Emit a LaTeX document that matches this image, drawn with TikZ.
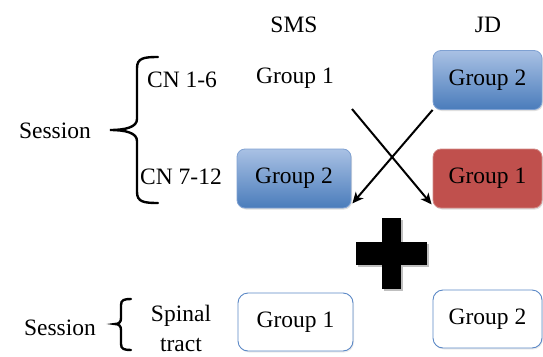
\documentclass[tikz,border=0pt]{standalone}
\usepackage{fontspec}
\setmainfont{Liberation Serif}
\usetikzlibrary{arrows.meta,shadows}
\definecolor{bluetop}{HTML}{A9C1E4}
\definecolor{bluebot}{HTML}{4A7CBB}
\definecolor{blueedge}{HTML}{7FA1D2}
\definecolor{redfill}{HTML}{C0504D}
\definecolor{rededge}{HTML}{D38A88}
\definecolor{outline}{HTML}{5B88C6}
\tikzset{
  lbl/.style={font=\fontsize{23.5}{27}\selectfont, inner sep=0pt},
  gbox/.style={lbl, rounded corners=8pt, minimum height=59pt,
    drop shadow={opacity=0.25, shadow xshift=1pt, shadow yshift=-1.5pt}},
  bluebox/.style={gbox, top color=bluetop, bottom color=bluebot, draw=blueedge, line width=0.8pt},
  redbox/.style={gbox, fill=redfill, draw=rededge, line width=0.8pt},
  whitebox/.style={lbl, rounded corners=10pt, minimum height=58pt, fill=white, draw=outline, line width=0.9pt,
    drop shadow={opacity=0.15, shadow xshift=1pt, shadow yshift=-1.5pt}},
  brace/.style={line width=2.4pt, line cap=round},
  arr/.style={line width=2pt, -{Stealth[length=11pt,width=10pt,inset=3pt]}}
}
\begin{document}
\begin{tikzpicture}[x=1pt,y=-1pt]
\useasboundingbox (0,0) rectangle (543,356);
% column headers
\node[lbl] (sms) at (294,25) {SMS};
\node[lbl] (jd) at (488,25) {JD};
% left labels
\node[lbl] (sess1) at (55,131) {Session};
\node[lbl] (cn16) at (182,80) {CN 1-6};
\node[lbl] (cn712) at (181,177) {CN 7-12};
\node[lbl] (sess2) at (60,328) {Session};
\node[lbl, align=center, font=\fontsize{23.5}{30}\selectfont] (spinal) at (181,328) {Spinal\\tract};
% braces
\draw[brace] (158,57) .. controls (144,57) and (137,58) .. (137,68) -- (137,119)
  .. controls (137,127) and (126,130) .. (110,130)
  .. controls (126,130) and (137,133) .. (137,141) -- (137,192)
  .. controls (137,202) and (144,203) .. (158,203);
\draw[brace] (131,299) .. controls (124,299) and (121,300) .. (121,305) -- (121,318)
  .. controls (121,322) and (119,324) .. (115,324)
  .. controls (119,324) and (121,326) .. (121,330) -- (121,344)
  .. controls (121,349) and (124,350) .. (131,350);
% groups
\node[lbl] (topg1) at (295,78) {Group 1};
\node[bluebox, minimum width=109pt] (topg2) at (487.5,80) {Group 2};
\node[bluebox, minimum width=114pt] (midg2) at (294,178.5) {Group 2};
\node[redbox, minimum width=109pt] (midg1) at (487.5,178.5) {Group 1};
\node[whitebox, minimum width=115pt] (botg1) at (295.5,322) {Group 1};
\node[whitebox, minimum width=109pt] (botg2) at (487.5,319) {Group 2};
% arrows
\coordinate (a1s) at (352,109);
\draw[arr] (a1s) -- ([shift={(-1,-4)}]midg1.south west);
\draw[arr] (topg2.south west) -- ([shift={(1,-5)}]midg2.south east);
% plus sign
\begin{scope}[fill=black!25]
\fill (384,220) rectangle (403,291);
\fill (358,244) rectangle (429,267);
\end{scope}
\fill[black] (382,218) rectangle (401,289);
\fill[black] (356,242) rectangle (427,265);
\end{tikzpicture}
\end{document}
